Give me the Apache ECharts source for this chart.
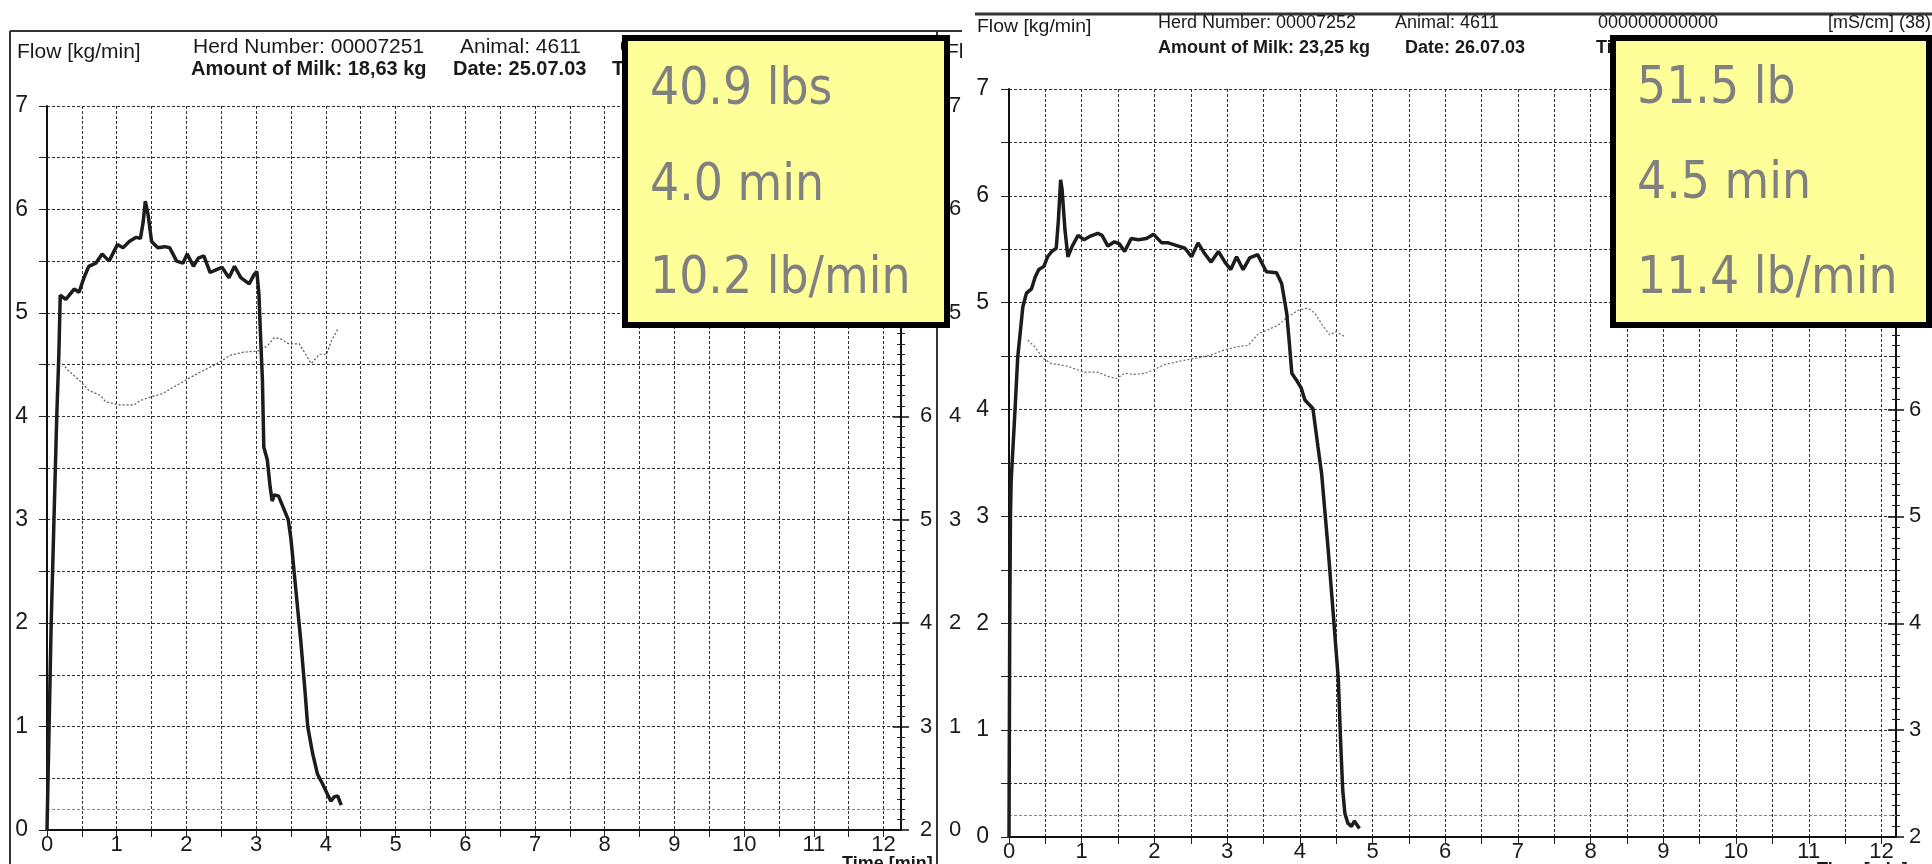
<!DOCTYPE html>
<html>
<head>
<meta charset="utf-8">
<title>Milk flow curves</title>
<script src="https://cdn.jsdelivr.net/npm/echarts@6/dist/echarts.min.js"></script>
<style>
html, body { margin: 0; padding: 0; background: #fff; }
#chart { width: 1932px; height: 864px; }
</style>
</head>
<body>
<div id="chart"></div>
<script>
// cow 1: flow [kg/min] against time [min]
var flow1 = [
  [0, 0], [0.03, 1], [0.06, 2], [0.1, 3], [0.14, 4], [0.17, 4.6], [0.19, 5.17],
  [0.27, 5.13], [0.39, 5.23], [0.46, 5.2], [0.53, 5.34], [0.6, 5.45], [0.7, 5.48],
  [0.79, 5.57], [0.89, 5.5], [1.01, 5.66], [1.09, 5.63], [1.18, 5.69], [1.28, 5.73],
  [1.34, 5.72], [1.38, 5.88], [1.41, 6.08], [1.45, 5.95], [1.5, 5.69], [1.59, 5.63],
  [1.69, 5.64], [1.76, 5.63], [1.86, 5.5], [1.95, 5.48], [2.01, 5.57], [2.1, 5.45],
  [2.17, 5.53], [2.25, 5.55], [2.34, 5.39], [2.44, 5.42], [2.51, 5.44], [2.61, 5.34],
  [2.69, 5.45], [2.78, 5.34], [2.9, 5.28], [2.97, 5.37], [3.01, 5.4], [3.04, 5.18],
  [3.06, 4.83], [3.09, 4.35], [3.11, 3.7], [3.16, 3.58], [3.2, 3.32], [3.23, 3.18],
  [3.26, 3.24], [3.32, 3.23], [3.4, 3.1], [3.46, 3.0], [3.5, 2.81], [3.57, 2.32],
  [3.64, 1.83], [3.7, 1.35], [3.74, 1.0], [3.81, 0.74], [3.88, 0.54], [3.95, 0.45],
  [4.02, 0.35], [4.07, 0.28], [4.12, 0.32], [4.17, 0.33], [4.22, 0.24]
];
// cow 1: conductivity [mS/cm]
var cond1 = [
  [0.22, 6.51], [0.31, 6.44], [0.46, 6.35], [0.6, 6.25], [0.77, 6.2], [0.84, 6.14],
  [1.04, 6.11], [1.25, 6.11], [1.33, 6.15], [1.5, 6.19], [1.66, 6.22], [1.86, 6.3],
  [2.15, 6.41], [2.44, 6.51], [2.63, 6.59], [2.82, 6.62], [3.02, 6.63], [3.16, 6.68],
  [3.26, 6.76], [3.35, 6.75], [3.47, 6.7], [3.62, 6.7], [3.79, 6.51], [3.91, 6.6],
  [4.01, 6.6], [4.08, 6.73], [4.17, 6.84]
];
// cow 2: flow [kg/min]
var flow2 = [
  [0, 0], [0.01, 2], [0.02, 3], [0.03, 3.34], [0.08, 3.96], [0.12, 4.49], [0.19, 4.96],
  [0.24, 5.09], [0.31, 5.13], [0.36, 5.24], [0.41, 5.31], [0.48, 5.34], [0.53, 5.43],
  [0.59, 5.48], [0.65, 5.51], [0.68, 5.78], [0.71, 6.15], [0.73, 6.06], [0.77, 5.68],
  [0.81, 5.43], [0.87, 5.53], [0.95, 5.63], [1.03, 5.59], [1.11, 5.62], [1.22, 5.65],
  [1.28, 5.63], [1.36, 5.53], [1.45, 5.57], [1.52, 5.55], [1.59, 5.48], [1.68, 5.6],
  [1.78, 5.59], [1.89, 5.6], [1.99, 5.64], [2.1, 5.56], [2.19, 5.56], [2.33, 5.53],
  [2.42, 5.51], [2.51, 5.43], [2.6, 5.56], [2.69, 5.46], [2.78, 5.38], [2.88, 5.48],
  [2.97, 5.38], [3.05, 5.31], [3.13, 5.43], [3.22, 5.31], [3.31, 5.42], [3.42, 5.45],
  [3.48, 5.37], [3.54, 5.29], [3.68, 5.28], [3.75, 5.18], [3.82, 4.9], [3.86, 4.59],
  [3.89, 4.34], [3.95, 4.28], [4.02, 4.2], [4.07, 4.09], [4.18, 4.01], [4.25, 3.65],
  [4.3, 3.4], [4.39, 2.69], [4.47, 2.0], [4.53, 1.47], [4.56, 0.91], [4.59, 0.44],
  [4.62, 0.22], [4.66, 0.13], [4.71, 0.1], [4.75, 0.15], [4.82, 0.08]
];
// cow 2: conductivity [mS/cm]
var cond2 = [
  [0.26, 6.65], [0.35, 6.59], [0.47, 6.48], [0.58, 6.43], [0.7, 6.42], [0.83, 6.4],
  [0.95, 6.37], [1.04, 6.35], [1.22, 6.35], [1.36, 6.31], [1.48, 6.29], [1.59, 6.34],
  [1.73, 6.33], [1.87, 6.34], [1.98, 6.37], [2.14, 6.42], [2.33, 6.45], [2.56, 6.48],
  [2.78, 6.51], [2.97, 6.56], [3.15, 6.59], [3.29, 6.6], [3.43, 6.71], [3.54, 6.74],
  [3.7, 6.79], [3.84, 6.87], [3.98, 6.93], [4.11, 6.95], [4.21, 6.9], [4.32, 6.78],
  [4.41, 6.7], [4.5, 6.73], [4.62, 6.68]
];
var lowFlowLine = 0.2;
var box1Lines = ["40.9 lbs", "4.0 min", "10.2 lb/min"];
var box2Lines = ["51.5 lb", "4.5 min", "11.4 lb/min"];
var header1 = {
  herd: "Herd Number: 00007251", animal: "Animal: 4611", id: "000000000000",
  milk: "Amount of Milk: 18,63 kg", date: "Date: 25.07.03", time: "Time:"
};
var header2 = {
  herd: "Herd Number: 00007252", animal: "Animal: 4611", id: "000000000000",
  milk: "Amount of Milk: 23,25 kg", date: "Date: 26.07.03", time: "Time:"
};

var FONT = "Liberation Sans";
var BOXFONT = "51px 'DejaVu Sans Condensed', 'DejaVu Sans'";
var gridLine = { color: "#333", type: [3, 2], width: 1 };

function intLabel(v) {
  return Number.isInteger(v) ? String(v) : "";
}

function timeAxis(grid, max) {
  return {
    type: "value", gridIndex: grid, min: 0, max: max, interval: 0.5,
    axisLine: { lineStyle: { color: "#111", width: 2 } },
    axisTick: { show: true, length: 7, lineStyle: { color: "#222" } },
    axisLabel: {
      formatter: intLabel, showMaxLabel: false, margin: 4,
      fontFamily: FONT, fontSize: 22, color: "#1a1a1a"
    },
    splitLine: { show: true, lineStyle: gridLine }
  };
}

function flowAxis(grid, margin) {
  return {
    type: "value", gridIndex: grid, position: "left", min: 0, max: 7, interval: 0.5,
    axisLine: { show: true, lineStyle: { color: "#111", width: 2 } },
    axisTick: { show: true, length: 8, lineStyle: { color: "#222" } },
    axisLabel: {
      formatter: intLabel, margin: margin,
      fontFamily: FONT, fontSize: 23, color: "#1a1a1a"
    },
    splitLine: { show: true, lineStyle: gridLine }
  };
}

function condAxis(grid, inside, labels, margin) {
  return {
    type: "value", gridIndex: grid, position: "right", min: 2, max: 9, interval: 1,
    axisLine: { show: true, lineStyle: { color: "#111", width: 2 } },
    axisTick: { show: true, inside: inside, length: 8, lineStyle: { color: "#111", width: 1.5 } },
    minorTick: { show: true, splitNumber: 10, length: 4, lineStyle: { color: "#222" } },
    axisLabel: {
      show: labels, margin: margin,
      fontFamily: FONT, fontSize: 22, color: "#1a1a1a"
    },
    splitLine: { show: false }
  };
}

function txt(x, y, s, font, sx) {
  return {
    type: "text", x: x, y: y, z: 50, scaleX: sx || 1,
    style: {
      text: s, font: font, fill: "#1a1a1a",
      textAlign: "left", textVerticalAlign: "middle", verticalAlign: "middle"
    }
  };
}

function hline(x1, x2, y, w) {
  return { type: "line", z: 40, shape: { x1: x1, y1: y, x2: x2, y2: y }, style: { stroke: "#333", lineWidth: w } };
}
function vline(x, y1, y2, w) {
  return { type: "line", z: 40, shape: { x1: x, y1: y1, x2: x, y2: y2 }, style: { stroke: "#333", lineWidth: w } };
}

function yellowBox(x, y, w, h, lines, tx, baselines) {
  var els = [{
    type: "rect", z: 100,
    shape: { x: x, y: y, width: w, height: h },
    style: { fill: "#ffff99", stroke: "#000", lineWidth: 6 }
  }];
  lines.forEach(function (s, i) {
    els.push({
      type: "text", z: 101, x: tx, y: baselines[i],
      style: {
        text: s, font: BOXFONT, fill: "#808080",
        textAlign: "left", textVerticalAlign: "bottom", verticalAlign: "bottom"
      }
    });
  });
  return els;
}

var hFont1 = "20px '" + FONT + "'";
var hBold1 = "bold 20px '" + FONT + "'";
var hFont2 = "18px '" + FONT + "'";
var hBold2 = "bold 18px '" + FONT + "'";

var graphics = [
  // left sheet frame
  hline(10, 962, 31, 2), vline(10, 31, 864, 2), vline(937, 31, 864, 2),
  // right sheet top rule
  hline(975, 1932, 14, 3),
  // left header
  txt(17, 52, "Flow [kg/min]", hFont1, 1.05),
  txt(193, 47, header1.herd, hFont1, 1.05),
  txt(460, 47, header1.animal, hFont1, 1.05),
  txt(620, 47, header1.id, hFont1, 1.05),
  txt(191, 69, header1.milk, hBold1),
  txt(453, 69, header1.date, hBold1),
  txt(612, 69, header1.time, hBold1),
  txt(946, 52, "Fl", "21px '" + FONT + "'"),
  txt(842, 864, "Time [min]", hBold2),
  // right header
  txt(977, 27, "Flow [kg/min]", hFont2, 1.08),
  txt(1158, 23, header2.herd, hFont2),
  txt(1395, 23, header2.animal, hFont2),
  txt(1598, 23, header2.id, hFont2),
  txt(1828, 23, "[mS/cm] (38)", hFont2),
  txt(1158, 48, header2.milk, hBold2),
  txt(1405, 48, header2.date, hBold2),
  txt(1596, 48, header2.time, hBold2),
  txt(1817, 870, "Time [min]", hBold2)
].concat(
  yellowBox(625, 38, 322, 287, box1Lines, 650, [116, 212, 305]),
  yellowBox(1613, 38, 316, 287, box2Lines, 1637, [115, 210, 305])
);

function lowLine() {
  return {
    silent: true, symbol: "none", label: { show: false },
    lineStyle: { color: "#888", type: [3, 2], width: 1 },
    data: [{ yAxis: lowFlowLine }]
  };
}

var option = {
  animation: false,
  backgroundColor: "#fff",
  grid: [
    { left: 47, top: 106, width: 854, height: 724 },
    { left: 1009, top: 89, width: 887, height: 748 }
  ],
  xAxis: [timeAxis(0, 12.25), timeAxis(1, 12.2)],
  yAxis: [
    flowAxis(0, 19),
    condAxis(0, false, true, 19),
    condAxis(0, true, false, 0),
    {
      type: "value", gridIndex: 0, position: "right", offset: 42, min: 0, max: 7, interval: 1,
      axisLine: { show: false }, axisTick: { show: false }, splitLine: { show: false },
      axisLabel: { margin: 6, fontFamily: FONT, fontSize: 22, color: "#1a1a1a" }
    },
    flowAxis(1, 20),
    condAxis(1, false, true, 13),
    condAxis(1, true, false, 0)
  ],
  series: [
    {
      name: "flow1", type: "line", xAxisIndex: 0, yAxisIndex: 0, data: flow1,
      showSymbol: false, z: 10,
      lineStyle: { color: "#1c1c1c", width: 3.5 },
      markLine: lowLine()
    },
    {
      name: "cond1", type: "line", xAxisIndex: 0, yAxisIndex: 1, data: cond1,
      showSymbol: false, z: 9,
      lineStyle: { color: "#555", width: 1.2, type: [2, 2] }
    },
    {
      name: "flow2", type: "line", xAxisIndex: 1, yAxisIndex: 4, data: flow2,
      showSymbol: false, z: 10,
      lineStyle: { color: "#1c1c1c", width: 3.5 },
      markLine: lowLine()
    },
    {
      name: "cond2", type: "line", xAxisIndex: 1, yAxisIndex: 5, data: cond2,
      showSymbol: false, z: 9,
      lineStyle: { color: "#666", width: 1.2, type: [2, 2] }
    }
  ],
  graphic: graphics
};

var chart = echarts.init(document.getElementById("chart"));
chart.setOption(option);
</script>
</body>
</html>
